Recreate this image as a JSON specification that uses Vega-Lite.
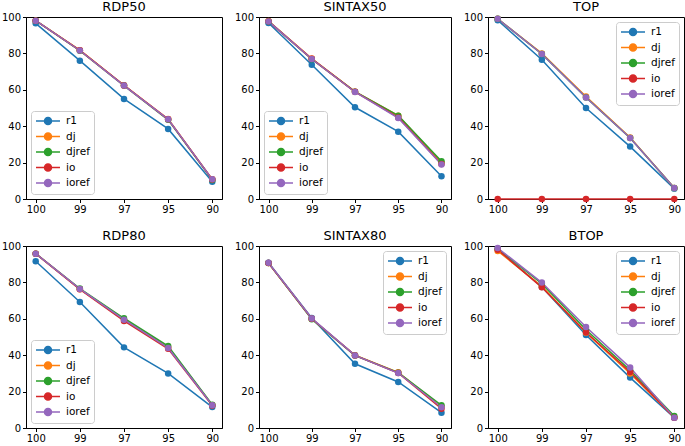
{
  "$schema": "https://vega.github.io/schema/vega-lite/v6.json",
  "padding": {"left": 0, "top": 0, "right": 2, "bottom": 0},
  "background": "white",
  "datasets": {
    "d": [
      {"p":"RDP50","m":"r1","t":"100","v":96.5},{"p":"RDP50","m":"r1","t":"99","v":76},{"p":"RDP50","m":"r1","t":"97","v":55},{"p":"RDP50","m":"r1","t":"95","v":38.5},{"p":"RDP50","m":"r1","t":"90","v":9.5},
      {"p":"RDP50","m":"dj","t":"100","v":98},{"p":"RDP50","m":"dj","t":"99","v":81.8},{"p":"RDP50","m":"dj","t":"97","v":62.5},{"p":"RDP50","m":"dj","t":"95","v":44},{"p":"RDP50","m":"dj","t":"90","v":10.8},
      {"p":"RDP50","m":"djref","t":"100","v":98},{"p":"RDP50","m":"djref","t":"99","v":81.5},{"p":"RDP50","m":"djref","t":"97","v":62.3},{"p":"RDP50","m":"djref","t":"95","v":43.5},{"p":"RDP50","m":"djref","t":"90","v":10.5},
      {"p":"RDP50","m":"io","t":"100","v":98},{"p":"RDP50","m":"io","t":"99","v":81.7},{"p":"RDP50","m":"io","t":"97","v":62.4},{"p":"RDP50","m":"io","t":"95","v":43.8},{"p":"RDP50","m":"io","t":"90","v":10.7},
      {"p":"RDP50","m":"ioref","t":"100","v":98},{"p":"RDP50","m":"ioref","t":"99","v":81.6},{"p":"RDP50","m":"ioref","t":"97","v":62.3},{"p":"RDP50","m":"ioref","t":"95","v":43.8},{"p":"RDP50","m":"ioref","t":"90","v":10.8},

      {"p":"SINTAX50","m":"r1","t":"100","v":96.7},{"p":"SINTAX50","m":"r1","t":"99","v":73.8},{"p":"SINTAX50","m":"r1","t":"97","v":50.4},{"p":"SINTAX50","m":"r1","t":"95","v":37},{"p":"SINTAX50","m":"r1","t":"90","v":12.5},
      {"p":"SINTAX50","m":"dj","t":"100","v":97.8},{"p":"SINTAX50","m":"dj","t":"99","v":77.2},{"p":"SINTAX50","m":"dj","t":"97","v":59},{"p":"SINTAX50","m":"dj","t":"95","v":45.8},{"p":"SINTAX50","m":"dj","t":"90","v":20},
      {"p":"SINTAX50","m":"djref","t":"100","v":97.6},{"p":"SINTAX50","m":"djref","t":"99","v":76.8},{"p":"SINTAX50","m":"djref","t":"97","v":59},{"p":"SINTAX50","m":"djref","t":"95","v":45.8},{"p":"SINTAX50","m":"djref","t":"90","v":20.8},
      {"p":"SINTAX50","m":"io","t":"100","v":97.6},{"p":"SINTAX50","m":"io","t":"99","v":77},{"p":"SINTAX50","m":"io","t":"97","v":58.9},{"p":"SINTAX50","m":"io","t":"95","v":44.8},{"p":"SINTAX50","m":"io","t":"90","v":19.2},
      {"p":"SINTAX50","m":"ioref","t":"100","v":97.6},{"p":"SINTAX50","m":"ioref","t":"99","v":76.9},{"p":"SINTAX50","m":"ioref","t":"97","v":58.8},{"p":"SINTAX50","m":"ioref","t":"95","v":44.5},{"p":"SINTAX50","m":"ioref","t":"90","v":19},

      {"p":"TOP","m":"r1","t":"100","v":98.2},{"p":"TOP","m":"r1","t":"99","v":76.5},{"p":"TOP","m":"r1","t":"97","v":50},{"p":"TOP","m":"r1","t":"95","v":28.8},{"p":"TOP","m":"r1","t":"90","v":5.7},
      {"p":"TOP","m":"dj","t":"100","v":99},{"p":"TOP","m":"dj","t":"99","v":80},{"p":"TOP","m":"dj","t":"97","v":56.3},{"p":"TOP","m":"dj","t":"95","v":33.8},{"p":"TOP","m":"dj","t":"90","v":6},
      {"p":"TOP","m":"djref","t":"100","v":99},{"p":"TOP","m":"djref","t":"99","v":79.7},{"p":"TOP","m":"djref","t":"97","v":55.8},{"p":"TOP","m":"djref","t":"95","v":33.5},{"p":"TOP","m":"djref","t":"90","v":6},
      {"p":"TOP","m":"io","t":"100","v":0},{"p":"TOP","m":"io","t":"99","v":0},{"p":"TOP","m":"io","t":"97","v":0},{"p":"TOP","m":"io","t":"95","v":0},{"p":"TOP","m":"io","t":"90","v":0},
      {"p":"TOP","m":"ioref","t":"100","v":99},{"p":"TOP","m":"ioref","t":"99","v":79.7},{"p":"TOP","m":"ioref","t":"97","v":55.8},{"p":"TOP","m":"ioref","t":"95","v":33.5},{"p":"TOP","m":"ioref","t":"90","v":6},

      {"p":"RDP80","m":"r1","t":"100","v":91.6},{"p":"RDP80","m":"r1","t":"99","v":69.2},{"p":"RDP80","m":"r1","t":"97","v":44.3},{"p":"RDP80","m":"r1","t":"95","v":30},{"p":"RDP80","m":"r1","t":"90","v":11.5},
      {"p":"RDP80","m":"dj","t":"100","v":95.8},{"p":"RDP80","m":"dj","t":"99","v":76.3},{"p":"RDP80","m":"dj","t":"97","v":59.5},{"p":"RDP80","m":"dj","t":"95","v":44.5},{"p":"RDP80","m":"dj","t":"90","v":12.5},
      {"p":"RDP80","m":"djref","t":"100","v":95.8},{"p":"RDP80","m":"djref","t":"99","v":76.6},{"p":"RDP80","m":"djref","t":"97","v":60.3},{"p":"RDP80","m":"djref","t":"95","v":45},{"p":"RDP80","m":"djref","t":"90","v":12.8},
      {"p":"RDP80","m":"io","t":"100","v":95.8},{"p":"RDP80","m":"io","t":"99","v":76.2},{"p":"RDP80","m":"io","t":"97","v":58.8},{"p":"RDP80","m":"io","t":"95","v":43.5},{"p":"RDP80","m":"io","t":"90","v":12.3},
      {"p":"RDP80","m":"ioref","t":"100","v":95.8},{"p":"RDP80","m":"ioref","t":"99","v":76.4},{"p":"RDP80","m":"ioref","t":"97","v":59.5},{"p":"RDP80","m":"ioref","t":"95","v":44},{"p":"RDP80","m":"ioref","t":"90","v":12.5},

      {"p":"SINTAX80","m":"r1","t":"100","v":90.8},{"p":"SINTAX80","m":"r1","t":"99","v":60.4},{"p":"SINTAX80","m":"r1","t":"97","v":35.3},{"p":"SINTAX80","m":"r1","t":"95","v":25.3},{"p":"SINTAX80","m":"r1","t":"90","v":8.4},
      {"p":"SINTAX80","m":"dj","t":"100","v":90.6},{"p":"SINTAX80","m":"dj","t":"99","v":60},{"p":"SINTAX80","m":"dj","t":"97","v":40},{"p":"SINTAX80","m":"dj","t":"95","v":30.6},{"p":"SINTAX80","m":"dj","t":"90","v":11.8},
      {"p":"SINTAX80","m":"djref","t":"100","v":90.6},{"p":"SINTAX80","m":"djref","t":"99","v":59.8},{"p":"SINTAX80","m":"djref","t":"97","v":39.8},{"p":"SINTAX80","m":"djref","t":"95","v":30.4},{"p":"SINTAX80","m":"djref","t":"90","v":12.5},
      {"p":"SINTAX80","m":"io","t":"100","v":90.6},{"p":"SINTAX80","m":"io","t":"99","v":60},{"p":"SINTAX80","m":"io","t":"97","v":39.9},{"p":"SINTAX80","m":"io","t":"95","v":30.2},{"p":"SINTAX80","m":"io","t":"90","v":10.6},
      {"p":"SINTAX80","m":"ioref","t":"100","v":90.8},{"p":"SINTAX80","m":"ioref","t":"99","v":60.2},{"p":"SINTAX80","m":"ioref","t":"97","v":39.9},{"p":"SINTAX80","m":"ioref","t":"95","v":30.2},{"p":"SINTAX80","m":"ioref","t":"90","v":11.4},

      {"p":"BTOP","m":"r1","t":"100","v":98.2},{"p":"BTOP","m":"r1","t":"99","v":77.5},{"p":"BTOP","m":"r1","t":"97","v":51.1},{"p":"BTOP","m":"r1","t":"95","v":27.7},{"p":"BTOP","m":"r1","t":"90","v":5.7},
      {"p":"BTOP","m":"dj","t":"100","v":97.3},{"p":"BTOP","m":"dj","t":"99","v":77.8},{"p":"BTOP","m":"dj","t":"97","v":52.4},{"p":"BTOP","m":"dj","t":"95","v":30},{"p":"BTOP","m":"dj","t":"90","v":5.9},
      {"p":"BTOP","m":"djref","t":"100","v":98.5},{"p":"BTOP","m":"djref","t":"99","v":79.3},{"p":"BTOP","m":"djref","t":"97","v":54},{"p":"BTOP","m":"djref","t":"95","v":31.7},{"p":"BTOP","m":"djref","t":"90","v":6.6},
      {"p":"BTOP","m":"io","t":"100","v":98},{"p":"BTOP","m":"io","t":"99","v":77.3},{"p":"BTOP","m":"io","t":"97","v":52.6},{"p":"BTOP","m":"io","t":"95","v":30.8},{"p":"BTOP","m":"io","t":"90","v":5.7},
      {"p":"BTOP","m":"ioref","t":"100","v":98.9},{"p":"BTOP","m":"ioref","t":"99","v":79.9},{"p":"BTOP","m":"ioref","t":"97","v":55.5},{"p":"BTOP","m":"ioref","t":"95","v":33.2},{"p":"BTOP","m":"ioref","t":"90","v":5.7}
    ]
  },
  "columns": 3,
  "spacing": {"row": 47, "column": 37},
  "bounds": "flush",
  "resolve": {"legend": {"color": "independent"}},
  "concat": [
    {"title": {"text": "RDP50", "fontWeight": "normal"}, "width": 196, "height": 182, "data": {"name": "d"},
     "transform": [{"filter": {"field": "p", "equal": "RDP50"}}],
     "encoding": {
       "x": {"field": "t", "type": "ordinal", "sort": ["100","99","97","95","90"], "scale": {"type": "point", "padding": 0.22}, "axis": {"title": null, "labelAngle": 0}},
       "y": {"field": "v", "type": "quantitative", "scale": {"domain": [0,100], "nice": false}, "axis": {"title": null, "values": [0,20,40,60,80,100]}},
       "color": {"field": "m", "type": "nominal", "scale": {"domain": ["r1","dj","djref","io","ioref"], "range": ["#1f77b4","#ff7f0e","#2ca02c","#d62728","#9467bd"]}, "legend": {"orient": "bottom-left", "title": null}}
     },
     "layer": [{"mark": {"type": "line", "strokeWidth": 1.5}}, {"mark": {"type": "point", "filled": true, "size": 42, "opacity": 1}}]},
    {"title": {"text": "SINTAX50", "fontWeight": "normal"}, "width": 192, "height": 182, "data": {"name": "d"},
     "transform": [{"filter": {"field": "p", "equal": "SINTAX50"}}],
     "encoding": {
       "x": {"field": "t", "type": "ordinal", "sort": ["100","99","97","95","90"], "scale": {"type": "point", "padding": 0.22}, "axis": {"title": null, "labelAngle": 0}},
       "y": {"field": "v", "type": "quantitative", "scale": {"domain": [0,100], "nice": false}, "axis": {"title": null, "values": [0,20,40,60,80,100]}},
       "color": {"field": "m", "type": "nominal", "scale": {"domain": ["r1","dj","djref","io","ioref"], "range": ["#1f77b4","#ff7f0e","#2ca02c","#d62728","#9467bd"]}, "legend": {"orient": "bottom-left", "title": null}}
     },
     "layer": [{"mark": {"type": "line", "strokeWidth": 1.5}}, {"mark": {"type": "point", "filled": true, "size": 42, "opacity": 1}}]},
    {"title": {"text": "TOP", "fontWeight": "normal"}, "width": 196, "height": 182, "data": {"name": "d"},
     "transform": [{"filter": {"field": "p", "equal": "TOP"}}],
     "encoding": {
       "x": {"field": "t", "type": "ordinal", "sort": ["100","99","97","95","90"], "scale": {"type": "point", "padding": 0.22}, "axis": {"title": null, "labelAngle": 0}},
       "y": {"field": "v", "type": "quantitative", "scale": {"domain": [0,100], "nice": false}, "axis": {"title": null, "values": [0,20,40,60,80,100]}},
       "color": {"field": "m", "type": "nominal", "scale": {"domain": ["r1","dj","djref","io","ioref"], "range": ["#1f77b4","#ff7f0e","#2ca02c","#d62728","#9467bd"]}, "legend": {"orient": "top-right", "title": null}}
     },
     "layer": [{"mark": {"type": "line", "strokeWidth": 1.5}}, {"mark": {"type": "point", "filled": true, "size": 42, "opacity": 1}}]},
    {"title": {"text": "RDP80", "fontWeight": "normal"}, "width": 196, "height": 182, "data": {"name": "d"},
     "transform": [{"filter": {"field": "p", "equal": "RDP80"}}],
     "encoding": {
       "x": {"field": "t", "type": "ordinal", "sort": ["100","99","97","95","90"], "scale": {"type": "point", "padding": 0.22}, "axis": {"title": null, "labelAngle": 0}},
       "y": {"field": "v", "type": "quantitative", "scale": {"domain": [0,100], "nice": false}, "axis": {"title": null, "values": [0,20,40,60,80,100]}},
       "color": {"field": "m", "type": "nominal", "scale": {"domain": ["r1","dj","djref","io","ioref"], "range": ["#1f77b4","#ff7f0e","#2ca02c","#d62728","#9467bd"]}, "legend": {"orient": "bottom-left", "title": null}}
     },
     "layer": [{"mark": {"type": "line", "strokeWidth": 1.5}}, {"mark": {"type": "point", "filled": true, "size": 42, "opacity": 1}}]},
    {"title": {"text": "SINTAX80", "fontWeight": "normal"}, "width": 192, "height": 182, "data": {"name": "d"},
     "transform": [{"filter": {"field": "p", "equal": "SINTAX80"}}],
     "encoding": {
       "x": {"field": "t", "type": "ordinal", "sort": ["100","99","97","95","90"], "scale": {"type": "point", "padding": 0.22}, "axis": {"title": null, "labelAngle": 0}},
       "y": {"field": "v", "type": "quantitative", "scale": {"domain": [0,100], "nice": false}, "axis": {"title": null, "values": [0,20,40,60,80,100]}},
       "color": {"field": "m", "type": "nominal", "scale": {"domain": ["r1","dj","djref","io","ioref"], "range": ["#1f77b4","#ff7f0e","#2ca02c","#d62728","#9467bd"]}, "legend": {"orient": "top-right", "title": null}}
     },
     "layer": [{"mark": {"type": "line", "strokeWidth": 1.5}}, {"mark": {"type": "point", "filled": true, "size": 42, "opacity": 1}}]},
    {"title": {"text": "BTOP", "fontWeight": "normal"}, "width": 196, "height": 182, "data": {"name": "d"},
     "transform": [{"filter": {"field": "p", "equal": "BTOP"}}],
     "encoding": {
       "x": {"field": "t", "type": "ordinal", "sort": ["100","99","97","95","90"], "scale": {"type": "point", "padding": 0.22}, "axis": {"title": null, "labelAngle": 0}},
       "y": {"field": "v", "type": "quantitative", "scale": {"domain": [0,100], "nice": false}, "axis": {"title": null, "values": [0,20,40,60,80,100]}},
       "color": {"field": "m", "type": "nominal", "scale": {"domain": ["r1","dj","djref","io","ioref"], "range": ["#1f77b4","#ff7f0e","#2ca02c","#d62728","#9467bd"]}, "legend": {"orient": "top-right", "title": null}}
     },
     "layer": [{"mark": {"type": "line", "strokeWidth": 1.5}}, {"mark": {"type": "point", "filled": true, "size": 42, "opacity": 1}}]}
  ],
  "config": {
    "font": "DejaVu Sans",
    "view": {"stroke": "black", "strokeWidth": 1},
    "axis": {"grid": false, "domainColor": "black", "tickColor": "black", "labelColor": "black", "labelFont": "DejaVu Sans", "labelFontSize": 10, "tickSize": 3.5, "labelPadding": 2},
    "title": {"font": "DejaVu Sans", "fontSize": 13, "fontWeight": "normal", "color": "black", "offset": -2},
    "style": {"group-title": {"fontWeight": "normal", "fontSize": 13}},
    "legend": {
      "labelFont": "DejaVu Sans", "labelFontSize": 10.5, "labelColor": "black",
      "strokeColor": "#cccccc", "fillColor": "rgba(255,255,255,0.85)", "cornerRadius": 3,
      "padding": 4, "rowPadding": 1.5, "offset": 5,
      "symbolType": "M-1,0L3.8,0M2.1,0A0.7,0.7 0 1,1 0.7,0A0.7,0.7 0 1,1 2.1,0Z",
      "symbolSize": 100, "symbolStrokeWidth": 1.5, "labelOffset": 19
    }
  }
}
